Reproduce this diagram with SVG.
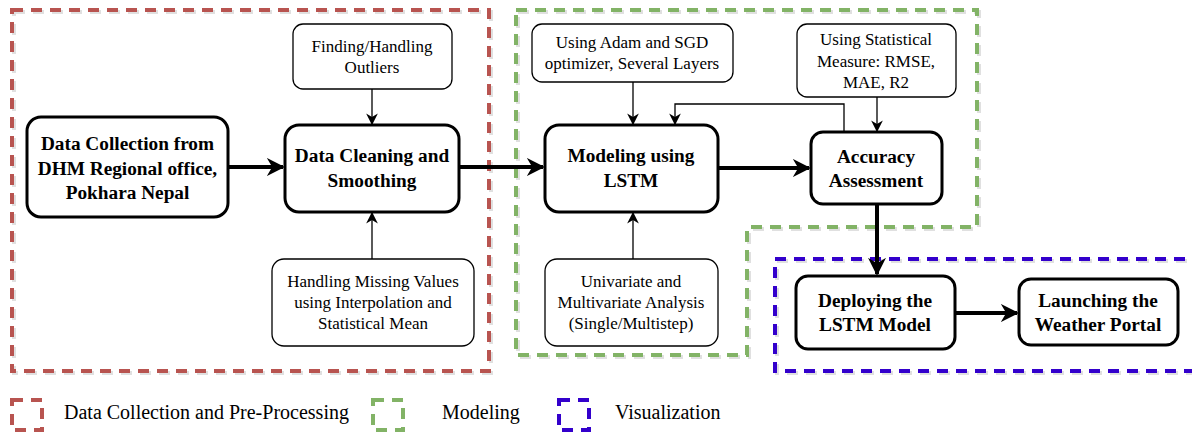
<svg xmlns="http://www.w3.org/2000/svg" width="1192" height="432" viewBox="0 0 1192 432">
<style>
.grp{fill:none;stroke-width:4;stroke-dasharray:11 8}
.red{stroke:#b85450}
.green{stroke:#82b366}
.blue{stroke:#3300cc}
.sh{fill:none;stroke:#000;stroke-opacity:0.12;stroke-width:4;stroke-dasharray:11 8}
.main{fill:#fff;stroke:#000;stroke-width:3}
.sub{fill:#fff;stroke:#000;stroke-width:1.3}
.bt{font-family:"Liberation Serif",serif;font-weight:bold;font-size:19.3px;text-anchor:middle;fill:#000}
.st{font-family:"Liberation Serif",serif;font-size:17px;text-anchor:middle;fill:#000}
.lt{font-family:"Liberation Serif",serif;font-size:20px;fill:#000}
.thick{fill:none;stroke:#000;stroke-width:4}
.thin{fill:none;stroke:#000;stroke-width:1.3}
</style>
<defs>
<marker id="ab" viewBox="0 0 10 10" refX="9" refY="5" markerWidth="4.5" markerHeight="4.5" markerUnits="strokeWidth" orient="auto">
<path d="M0,0 L10,5 L0,10 L3,5 z" fill="#000"/>
</marker>
<marker id="as" viewBox="0 0 10 10" refX="9" refY="5" markerWidth="9" markerHeight="9" markerUnits="strokeWidth" orient="auto">
<path d="M0,0 L10,5 L0,10 L3,5 z" fill="#000"/>
</marker>
</defs>
<g id="groups">
<rect class="sh" x="14" y="12" width="477" height="361"/>
<rect class="grp red" x="12" y="10" width="477" height="361"/>
<path class="sh" d="M518,12 L979,12 L979,229 L749,229 L749,357 L518,357 Z"/>
<path class="grp green" d="M516,10 L977,10 L977,227 L747,227 L747,355 L516,355 Z"/>
<rect class="sh" x="777" y="261" width="420" height="112"/>
<rect class="grp blue" x="775" y="259" width="420" height="112"/>
</g>
<g id="connectors">
<line class="thick" x1="228" y1="167" x2="283" y2="167" marker-end="url(#ab)"/>
<line class="thick" x1="459" y1="167" x2="543" y2="167" marker-end="url(#ab)"/>
<line class="thick" x1="718" y1="168" x2="809" y2="168" marker-end="url(#ab)"/>
<line class="thick" x1="877" y1="205" x2="877" y2="274" marker-end="url(#ab)"/>
<line class="thick" x1="955" y1="313" x2="1017" y2="313" marker-end="url(#ab)"/>
<line class="thin" x1="372" y1="89" x2="372" y2="124" marker-end="url(#as)"/>
<line class="thin" x1="372" y1="259" x2="372" y2="213" marker-end="url(#as)"/>
<line class="thin" x1="633" y1="82" x2="633" y2="124" marker-end="url(#as)"/>
<line class="thin" x1="633" y1="259" x2="633" y2="213" marker-end="url(#as)"/>
<line class="thin" x1="877" y1="97" x2="877" y2="131" marker-end="url(#as)"/>
<path class="thin" d="M844,132 L844,104 L675,104 L675,124" marker-end="url(#as)"/>
</g>
<g id="n-collect">
<rect class="main" x="27" y="117" width="201" height="100" rx="14"/>
<text class="bt" x="127.5" y="150">Data Collection from</text>
<text class="bt" x="127.5" y="175">DHM Regional office,</text>
<text class="bt" x="127.5" y="199">Pokhara Nepal</text>
</g>
<g id="n-clean">
<rect class="main" x="285" y="125" width="174" height="87" rx="14"/>
<text class="bt" x="372" y="162">Data Cleaning and</text>
<text class="bt" x="372" y="187">Smoothing</text>
</g>
<g id="n-outliers">
<rect class="sub" x="293" y="24" width="159" height="65" rx="10"/>
<text class="st" x="372" y="52">Finding/Handling</text>
<text class="st" x="372" y="73">Outliers</text>
</g>
<g id="n-missing">
<rect class="sub" x="272" y="259" width="202" height="87" rx="12"/>
<text class="st" x="373" y="287">Handling Missing Values</text>
<text class="st" x="373" y="308">using Interpolation and</text>
<text class="st" x="373" y="329">Statistical Mean</text>
</g>
<g id="n-model">
<rect class="main" x="545" y="125" width="173" height="87" rx="14"/>
<text class="bt" x="631" y="162">Modeling using</text>
<text class="bt" x="631" y="187">LSTM</text>
</g>
<g id="n-adam">
<rect class="sub" x="532" y="24" width="201" height="58" rx="10"/>
<text class="st" x="632" y="48">Using Adam and SGD</text>
<text class="st" x="632" y="69">optimizer, Several Layers</text>
</g>
<g id="n-uni">
<rect class="sub" x="545" y="259" width="173" height="87" rx="12"/>
<text class="st" x="631" y="287">Univariate and</text>
<text class="st" x="631" y="308">Multivariate Analysis</text>
<text class="st" x="631" y="329">(Single/Multistep)</text>
</g>
<g id="n-acc">
<rect class="main" x="811" y="132" width="131" height="72" rx="12"/>
<text class="bt" x="876" y="163">Accuracy</text>
<text class="bt" x="876" y="187">Assessment</text>
</g>
<g id="n-stat">
<rect class="sub" x="797" y="24" width="159" height="73" rx="10"/>
<text class="st" x="876" y="45">Using Statistical</text>
<text class="st" x="876" y="67">Measure: RMSE,</text>
<text class="st" x="876" y="88">MAE, R2</text>
</g>
<g id="n-deploy">
<rect class="main" x="796" y="276" width="159" height="73" rx="12"/>
<text class="bt" x="875" y="307">Deploying the</text>
<text class="bt" x="875" y="331">LSTM Model</text>
</g>
<g id="n-launch">
<rect class="main" x="1019" y="279" width="159" height="66" rx="12"/>
<text class="bt" x="1098" y="307">Launching the</text>
<text class="bt" x="1098" y="331">Weather Portal</text>
</g>
<g id="legend">
<rect class="grp red" x="12" y="400" width="30" height="30"/>
<text class="lt" x="64" y="419">Data Collection and Pre-Processing</text>
<rect class="grp green" x="373" y="400" width="30" height="30"/>
<text class="lt" x="442" y="419">Modeling</text>
<rect class="grp blue" x="559" y="400" width="30" height="30"/>
<text class="lt" x="615" y="419">Visualization</text>
</g>
</svg>
